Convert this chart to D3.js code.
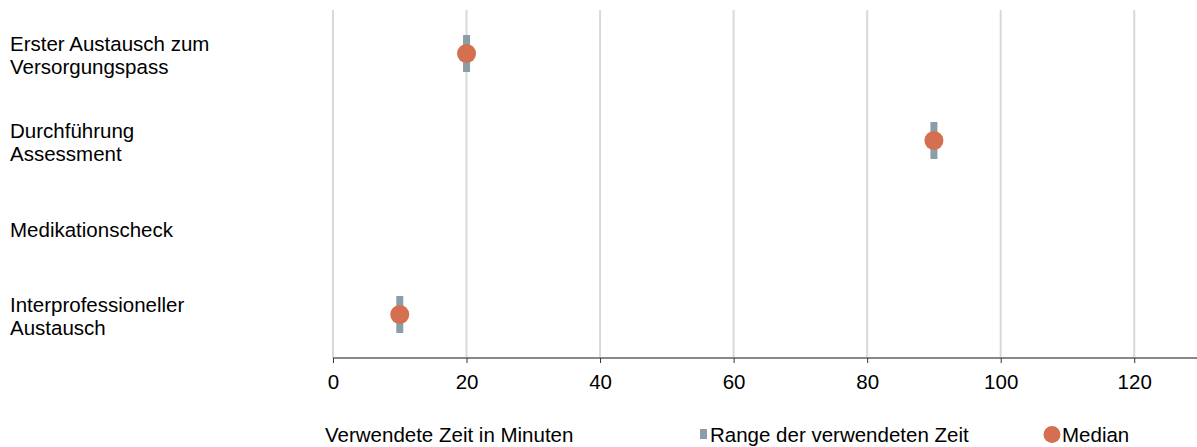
<!DOCTYPE html>
<html>
<head>
<meta charset="utf-8">
<script src="https://cdn.jsdelivr.net/npm/d3@7"></script>
<style>
  html, body { margin: 0; padding: 0; background: #fff; }
  svg text { font-family: "Liberation Sans", Arial, sans-serif; fill: #000; }
</style>
</head>
<body>
<svg id="chart" width="1197" height="447"></svg>
<script>
// Activities (two-line labels) and times in minutes
const categories = [
  ["Erster Austausch zum", "Versorgungspass"],
  ["Durchführung", "Assessment"],
  ["Medikationscheck"],
  ["Interprofessioneller", "Austausch"]
];
const rangeMin = [20, 90, null, 10];
const rangeMax = [20, 90, null, 10];
const medians  = [20, 90, null, 10];
const xTicks   = [0, 20, 40, 60, 80, 100, 120];

const axisTitle = "Verwendete Zeit in Minuten";
const legendRange = "Range der verwendeten Zeit";
const legendMedian = "Median";

const colRange = "#8a9da9";
const colMedian = "#d4704f";
const fontSize = 20.5;

const svg = d3.select("#chart");
const plot = { left: 333, right: 1201, top: 10, bottom: 358 };

const x = d3.scaleLinear().domain([0, 130]).range([plot.left, plot.right]);
const y = d3.scaleBand().domain(d3.range(categories.length)).range([plot.top, plot.bottom]);

// vertical gridlines
svg.append("g").selectAll("line").data(xTicks).join("line")
  .attr("x1", d => x(d)).attr("x2", d => x(d))
  .attr("y1", plot.top).attr("y2", plot.bottom)
  .attr("stroke", "#d9d9d9").attr("stroke-width", 2);

// x axis
const xAxis = d3.axisBottom(x).tickValues(xTicks).tickSize(5).tickPadding(11.5);
const gx = svg.append("g").attr("transform", `translate(0,${plot.bottom})`).call(xAxis);
gx.select(".domain").attr("stroke", "#888").attr("stroke-width", 2)
  .attr("d", `M${plot.left},0H${plot.right}`);
gx.selectAll(".tick line").attr("stroke", "#333").attr("stroke-width", 1);
gx.selectAll(".tick text").attr("font-size", fontSize).attr("font-family", "Liberation Sans, Arial, sans-serif").attr("fill", "#000");

// category labels
const lineH = 23;
const labels = svg.append("g").selectAll("text").data(categories).join("text")
  .attr("x", 10)
  .attr("font-size", fontSize)
  .attr("y", (d, i) => y(i) + y.bandwidth() / 2 - (d.length - 1) * lineH / 2 + 9);
labels.selectAll("tspan").data(d => d).join("tspan")
  .attr("x", 10)
  .attr("dy", (d, j) => j === 0 ? 0 : lineH)
  .text(d => d);

// range bars
const barH = 37, barPad = 3.5;
const rows = d3.range(categories.length).filter(i => medians[i] != null);
svg.append("g").selectAll("rect").data(rows).join("rect")
  .attr("x", i => x(rangeMin[i]) - barPad)
  .attr("width", i => x(rangeMax[i]) - x(rangeMin[i]) + 2 * barPad)
  .attr("y", i => y(i) + y.bandwidth() / 2 - barH / 2)
  .attr("height", barH)
  .attr("fill", colRange);

// medians
svg.append("g").selectAll("circle").data(rows).join("circle")
  .attr("cx", i => x(medians[i]))
  .attr("cy", i => y(i) + y.bandwidth() / 2)
  .attr("r", 9.5)
  .attr("fill", colMedian);

// legend
const ly = 441.5;
svg.append("text").attr("x", 325).attr("y", ly).attr("font-size", fontSize).text(axisTitle);
svg.append("rect").attr("x", 700).attr("y", 429).attr("width", 7).attr("height", 10).attr("fill", colRange);
svg.append("text").attr("x", 710).attr("y", ly).attr("font-size", fontSize).text(legendRange);
svg.append("circle").attr("cx", 1052).attr("cy", 434.5).attr("r", 8.5).attr("fill", colMedian);
svg.append("text").attr("x", 1062).attr("y", ly).attr("font-size", fontSize).text(legendMedian);
</script>
</body>
</html>
